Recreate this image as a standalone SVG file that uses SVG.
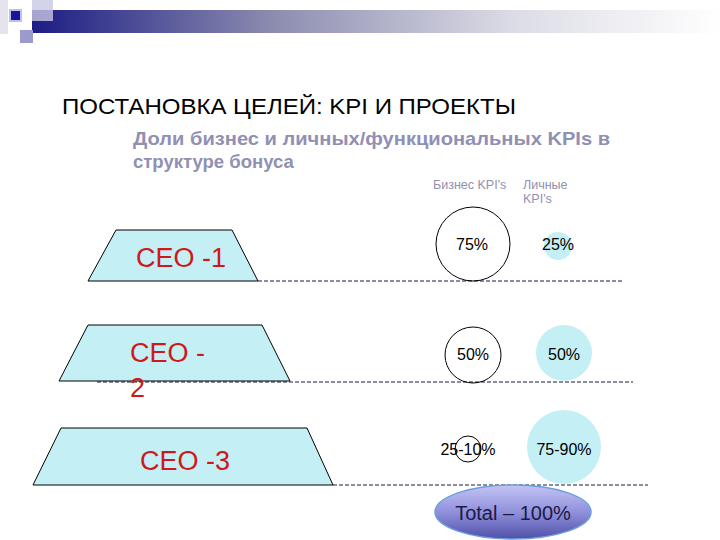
<svg xmlns="http://www.w3.org/2000/svg" width="720" height="540" viewBox="0 0 720 540">
<defs>
<linearGradient id="band" x1="0" y1="0" x2="1" y2="0">
<stop offset="0" stop-color="#1c1c84"/>
<stop offset="0.35" stop-color="#8c8cb0"/>
<stop offset="0.7" stop-color="#dcdce6"/>
<stop offset="1" stop-color="#ffffff"/>
</linearGradient>
<linearGradient id="tot" x1="0" y1="0" x2="0" y2="1">
<stop offset="0" stop-color="#c4c4f4"/>
<stop offset="0.5" stop-color="#9090dc"/>
<stop offset="1" stop-color="#5050a8"/>
</linearGradient>
<style>
.trap{fill:#c4f0f5;stroke:#000;stroke-width:1}
.ceo{font-family:"Liberation Sans",Arial,sans-serif;font-size:27px;fill:#d01818}
.pct{font-family:"Liberation Sans",Arial,sans-serif;font-size:16px;fill:#000;text-anchor:middle}
.hdr{font-family:"Liberation Sans",Arial,sans-serif;font-size:12.5px;fill:#9090b0}
.dash{stroke:#1a1a3a;stroke-width:1;stroke-dasharray:4 2;fill:none}
.ring{fill:none;stroke:#000;stroke-width:1}
.cy{fill:#c4f0f5}
</style>
</defs>
<g id="decor">
<rect x="0" y="0" width="8" height="34" fill="#e4e4ee"/>
<rect x="32" y="10" width="688" height="23" fill="url(#band)"/>
<rect x="32" y="0" width="21" height="21" fill="#c8c8e4" opacity="0.8"/>
<rect x="20" y="30" width="13" height="13" fill="#9a9acc"/>
<rect x="9" y="9" width="13" height="13" fill="#c0c0e0"/>
<rect x="11" y="11" width="9" height="9" fill="#16169a"/>
</g>
<g id="title">
<text x="62" y="114" font-family="'Liberation Sans',Arial,sans-serif" font-size="22" textLength="454" lengthAdjust="spacingAndGlyphs" fill="#000">ПОСТАНОВКА ЦЕЛЕЙ: KPI И ПРОЕКТЫ</text>
<text x="133" y="145" font-family="'Liberation Sans',Arial,sans-serif" font-size="18.5" font-weight="bold" textLength="477" lengthAdjust="spacingAndGlyphs" fill="#9090b4">Доли бизнес и личных/функциональных KPIs в</text>
<text x="133" y="168" font-family="'Liberation Sans',Arial,sans-serif" font-size="18.5" font-weight="bold" fill="#9090b4">структуре бонуса</text>
</g>
<g id="headers">
<text class="hdr" x="433" y="189">Бизнес KPI's</text>
<text class="hdr" x="523" y="189">Личные</text>
<text class="hdr" x="523" y="203">KPI's</text>
</g>
<g id="connectors">
<line class="dash" x1="258" y1="281" x2="622" y2="281"/>
<line class="dash" x1="97" y1="382" x2="633" y2="382"/>
<line class="dash" x1="333" y1="485" x2="648" y2="485"/>
</g>
<g id="ceo1">
<polygon class="trap" points="116,230 232,230 258,281 88,281"/>
<text class="ceo" x="136" y="267">CEO -1</text>
</g>
<g id="ceo2">
<polygon class="trap" points="88,325 262,325 290,381 59,381"/>
<text class="ceo" x="130" y="362">CEO -</text>
<text class="ceo" x="130" y="397">2</text>
</g>
<g id="ceo3">
<polygon class="trap" points="61,428 307,428 333,485 33,485"/>
<text class="ceo" x="140" y="470">CEO -3</text>
</g>
<g id="b1">
<circle class="ring" cx="473" cy="244" r="37"/>
<text class="pct" x="472" y="250">75%</text>
</g>
<g id="p1">
<circle class="cy" cx="558" cy="246" r="14"/>
<text class="pct" x="558" y="250">25%</text>
</g>
<g id="b2">
<circle class="ring" cx="473" cy="355" r="28"/>
<text class="pct" x="473" y="360">50%</text>
</g>
<g id="p2">
<circle class="cy" cx="564" cy="353" r="28"/>
<text class="pct" x="564" y="360">50%</text>
</g>
<g id="b3">
<circle class="ring" cx="468" cy="449" r="13"/>
<text class="pct" x="468" y="455">25-10%</text>
</g>
<g id="p3">
<circle class="cy" cx="564" cy="447" r="37"/>
<text class="pct" x="564" y="455">75-90%</text>
</g>
<g id="total">
<ellipse cx="513" cy="512" rx="78" ry="27" fill="url(#tot)" stroke="#6a9ee0" stroke-width="1.5"/>
<text x="513" y="520" text-anchor="middle" font-family="'Liberation Sans',Arial,sans-serif" font-size="20" fill="#1a1a44">Total – 100%</text>
</g>
</svg>
